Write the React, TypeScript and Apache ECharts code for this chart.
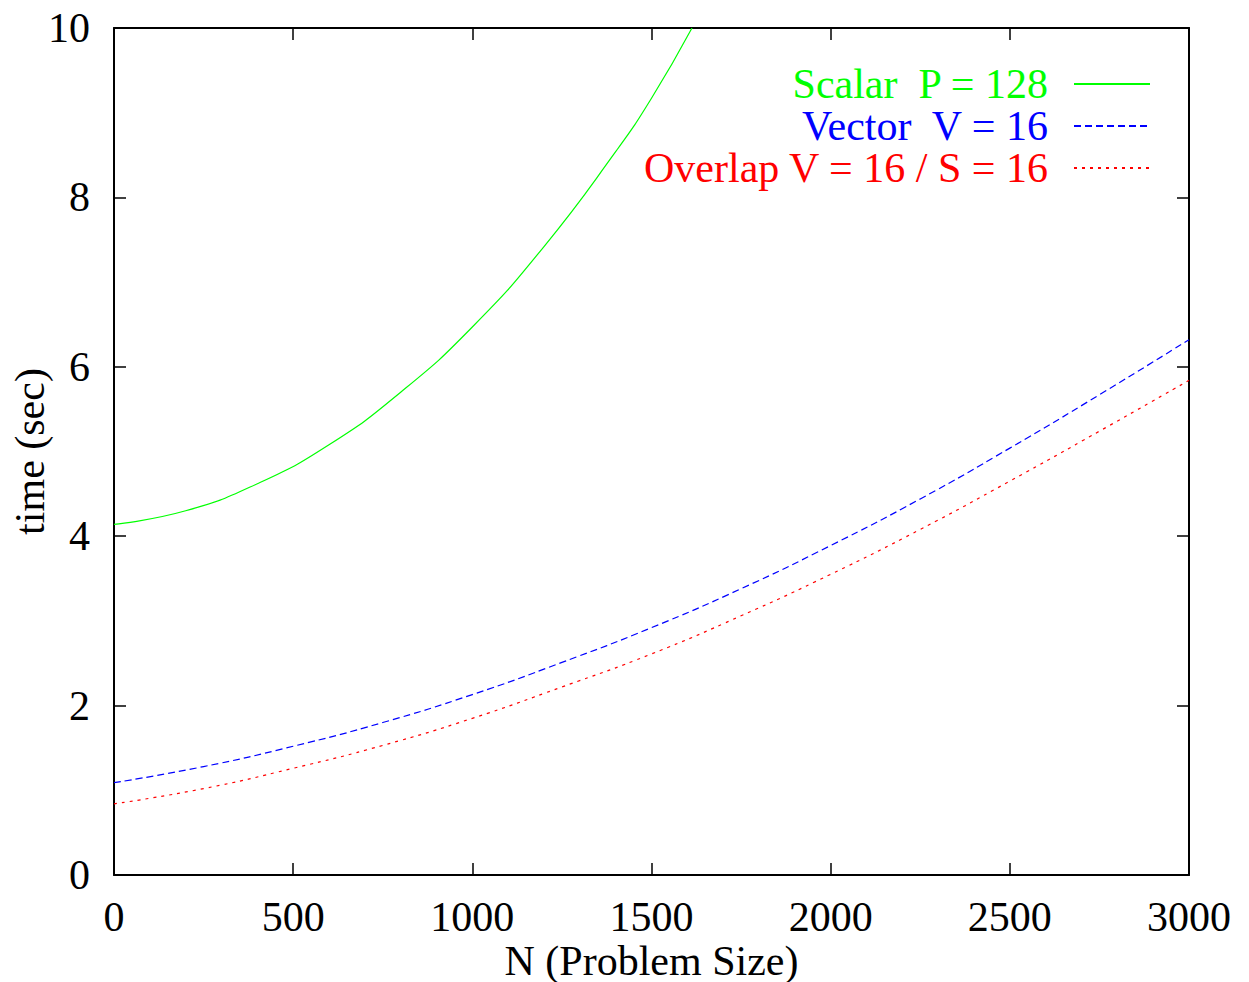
import React, { useEffect, useRef } from "react";
import * as echarts from "echarts";

const xTicksMin = 0;
const xTicksMax = 3000;
const yTicksMin = 0;
const yTicksMax = 10;

const scalarN = [0, 200, 400, 600, 800, 1000, 1200, 1400, 1500, 1613];
const scalarT = [4.14, 4.3, 4.62, 5.08, 5.7, 6.47, 7.42, 8.54, 9.17, 10.0];

const vectorN = [0, 250, 500, 750, 1000, 1250, 1500, 1750, 2000, 2250, 2500, 2750, 3000];
const vectorT = [1.09, 1.28, 1.52, 1.8, 2.13, 2.51, 2.92, 3.38, 3.89, 4.44, 5.04, 5.67, 6.32];

const overlapN = [0, 250, 500, 750, 1000, 1250, 1500, 1750, 2000, 2250, 2500, 2750, 3000];
const overlapT = [0.84, 1.02, 1.26, 1.53, 1.85, 2.22, 2.61, 3.06, 3.55, 4.08, 4.65, 5.24, 5.84];

const seriesNames = ["Scalar  P = 128", "Vector  V = 16", "Overlap V = 16 / S = 16"];
const seriesColors = ["#00ff00", "#0000ff", "#ff0000"];

const FONT = "Liberation Serif";
const FS = 42;

function pairs(xs: number[], ys: number[]) {
  return xs.map((x, i) => [x, ys[i]]);
}

export default function App() {
  const ref = useRef<HTMLDivElement>(null);
  useEffect(() => {
    if (!ref.current) return;
    const chart = echarts.init(ref.current, undefined, { renderer: "svg" });
    const axisLine = { show: true, onZero: false, lineStyle: { color: "#000", width: 2 } };
    const axisTick = { show: true, inside: true, length: 12, lineStyle: { color: "#000", width: 1.5 } };
    chart.setOption({
      animation: false,
      backgroundColor: "#fff",
      textStyle: { fontFamily: FONT },
      grid: { left: 114, right: 60, top: 28, bottom: 107, containLabel: false, outerBoundsMode: "none" },
      legend: {
        orient: "vertical",
        right: 98,
        top: 63,
        padding: 0,
        align: "right",
        itemWidth: 76,
        itemHeight: 14,
        itemGap: 0,
        selectedMode: false,
        itemStyle: { opacity: 0 },
        data: seriesNames.map((n, i) => ({
          name: n,
          textStyle: { color: seriesColors[i] },
        })),
        textStyle: { fontFamily: FONT, fontSize: FS, lineHeight: 40, padding: [0, 21, 0, 0] },
      },
      xAxis: [
        {
          type: "value",
          position: "bottom",
          min: xTicksMin,
          max: xTicksMax,
          interval: 500,
          axisLine,
          axisTick,
          splitLine: { show: false },
          axisLabel: {
            color: "#000",
            fontSize: FS,
            fontFamily: FONT,
            margin: 23,
            lineHeight: 38,
            formatter: (v: number) => String(v),
          },
          name: "N (Problem Size)",
          nameLocation: "middle",
          nameGap: 86,
          nameMoveOverlap: false,
          nameTextStyle: { color: "#000", fontSize: FS, fontFamily: FONT, verticalAlign: "middle", lineHeight: 40 },
        },
        {
          type: "value",
          position: "top",
          min: xTicksMin,
          max: xTicksMax,
          interval: 500,
          axisLine,
          axisTick,
          splitLine: { show: false },
          axisLabel: { show: false },
        },
      ],
      yAxis: [
        {
          type: "value",
          position: "left",
          min: yTicksMin,
          max: yTicksMax,
          interval: 2,
          axisLine,
          axisTick,
          splitLine: { show: false },
          axisLabel: { color: "#000", fontSize: FS, fontFamily: FONT, margin: 24, formatter: (v: number) => String(v) },
          name: "time (sec)",
          nameLocation: "middle",
          nameGap: 84,
          nameMoveOverlap: false,
          nameTextStyle: { color: "#000", fontSize: FS, fontFamily: FONT, verticalAlign: "middle", lineHeight: 42 },
        },
        {
          type: "value",
          position: "right",
          min: yTicksMin,
          max: yTicksMax,
          interval: 2,
          axisLine,
          axisTick,
          splitLine: { show: false },
          axisLabel: { show: false },
        },
      ],
      series: [
        {
          name: seriesNames[0],
          type: "line",
          data: pairs(scalarN, scalarT),
          smooth: true,
          symbol: "none",
          clip: true,
          lineStyle: { color: seriesColors[0], width: 1.2, type: "solid" },
          itemStyle: { color: seriesColors[0] },
        },
        {
          name: seriesNames[1],
          type: "line",
          data: pairs(vectorN, vectorT),
          smooth: true,
          symbol: "none",
          clip: true,
          lineStyle: { color: seriesColors[1], width: 1.2, type: [7, 4] },
          itemStyle: { color: seriesColors[1] },
        },
        {
          name: seriesNames[2],
          type: "line",
          data: pairs(overlapN, overlapT),
          smooth: true,
          symbol: "none",
          clip: true,
          lineStyle: { color: seriesColors[2], width: 1.2, type: [3, 5] },
          itemStyle: { color: seriesColors[2] },
        },
      ],
    });
    return () => chart.dispose();
  }, []);
  return (
    <div
      ref={ref}
      style={{ position: "absolute", left: 0, top: 0, width: 1249, height: 982, background: "#fff" }}
    />
  );
}
